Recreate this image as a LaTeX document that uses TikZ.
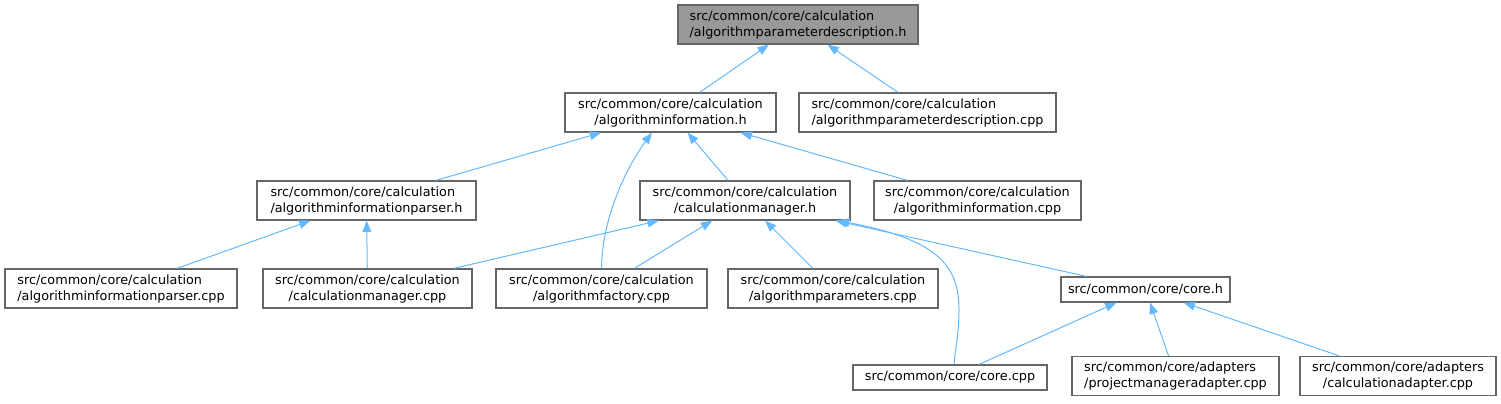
\documentclass[tikz,border=0pt]{standalone}
\usepackage{fontspec}
\setmainfont{DejaVu Sans}
\usepackage{tikz}
\usetikzlibrary{arrows.meta, calc}
\definecolor{edgeblue}{HTML}{63B8FF}
\definecolor{boxgray}{HTML}{666666}
\definecolor{rootgray}{HTML}{999999}
\tikzset{
    filebox/.style={rectangle, draw=boxgray, line width=0.9pt, inner sep=0pt, align=center, minimum height=29.25pt, font=\fontsize{9.6}{12}\selectfont},
    fileboxl/.style={filebox, align=left},
    onebox/.style={filebox, minimum height=18.75pt},
    rootbox/.style={fileboxl, fill=rootgray},
    dep/.style={draw=edgeblue, line width=0.75pt, {Triangle[length=8.5pt,width=6.5pt]}-}
}

\begin{document}
\begin{tikzpicture}[x=0.75pt, y=-0.75pt]
        \useasboundingbox (0,0) rectangle (1501,403);
        % Root header
        \node (root) [rootbox, minimum width=180pt] at (798, 24.5) {src/common/core/calculation\\/algorithmparameterdescription.h};
        
        % Second rank
        \node (ainfoh) [filebox, minimum width=158.25pt] at (670.5, 112.5) {src/common/core/calculation\\/algorithminformation.h};
        \node (apdcpp) [fileboxl, minimum width=192.75pt] at (927.5, 112.5) {src/common/core/calculation\\/algorithmparameterdescription.cpp};
        
        % Third rank
        \node (parserh) [fileboxl, minimum width=164.25pt] at (366.5, 200.5) {src/common/core/calculation\\/algorithminformationparser.h};
        \node (cmh) [filebox, minimum width=157.5pt] at (745, 200.5) {src/common/core/calculation\\/calculationmanager.h};
        \node (aicpp) [filebox, minimum width=155.25pt] at (977.5, 200.5) {src/common/core/calculation\\/algorithminformation.cpp};
        
        % Fourth rank
        \node (parsercpp) [fileboxl, minimum width=174pt] at (121, 288.5) {src/common/core/calculation\\/algorithminformationparser.cpp};
        \node (cmcpp) [filebox, minimum width=156.75pt] at (367.5, 288.5) {src/common/core/calculation\\/calculationmanager.cpp};
        \node (afcpp) [filebox, minimum width=158.25pt] at (601.5, 288.5) {src/common/core/calculation\\/algorithmfactory.cpp};
        \node (apcpp) [filebox, minimum width=157.5pt] at (833, 288.5) {src/common/core/calculation\\/algorithmparameters.cpp};
        \node (coreh) [onebox, minimum width=126.75pt] at (1145.5, 289.5) {src/common/core/core.h};
        
        % Bottom rank
        \node (corecpp) [onebox, minimum width=145.5pt] at (950, 377.5) {src/common/core/core.cpp};
        \node (pmacpp) [fileboxl, minimum width=155.25pt] at (1175.5, 376) {src/common/core/adapters\\/projectmanageradapter.cpp};
        \node (cacpp) [filebox, minimum width=147pt] at (1398, 376) {src/common/core/adapters\\/calculationadapter.cpp};
        
        % Includes
        \draw[dep] (root) -- (ainfoh);
        \draw[dep] (root) -- (apdcpp);
        
        \draw[dep] (ainfoh) -- (parserh);
        \draw[dep] (ainfoh) -- (cmh);
        \draw[dep] (ainfoh) -- (aicpp);
        \draw[dep] ($(ainfoh.south)+(-18.5,0)$) .. controls ($(afcpp.north)+(23.5,-99)$) and ($(afcpp.north)+(0.5,-49)$) .. (afcpp.north);
        
        \draw[dep] (parserh) -- (parsercpp);
        \draw[dep] (parserh) -- (cmcpp);
        
        \draw[dep] (cmh) -- (cmcpp);
        \draw[dep] (cmh) -- (afcpp);
        \draw[dep] (cmh) -- (apcpp);
        \draw[dep] (cmh) -- (coreh);
        \draw[dep] ($(cmh.south)+(93,0)$) .. controls ($(corecpp.north)+(-14,-125)$) and ($(corecpp.north)+(9,-100)$) .. ($(corecpp.north)+(9,-55)$) .. controls ($(corecpp.north)+(9,-30)$) and ($(corecpp.north)+(5,-15)$) .. ($(corecpp.north)+(4,0)$);
        
        \draw[dep] (coreh) -- (corecpp);
        \draw[dep] (coreh) -- (pmacpp);
        \draw[dep] (coreh) -- (cacpp);
    \end{tikzpicture}
\end{document}
